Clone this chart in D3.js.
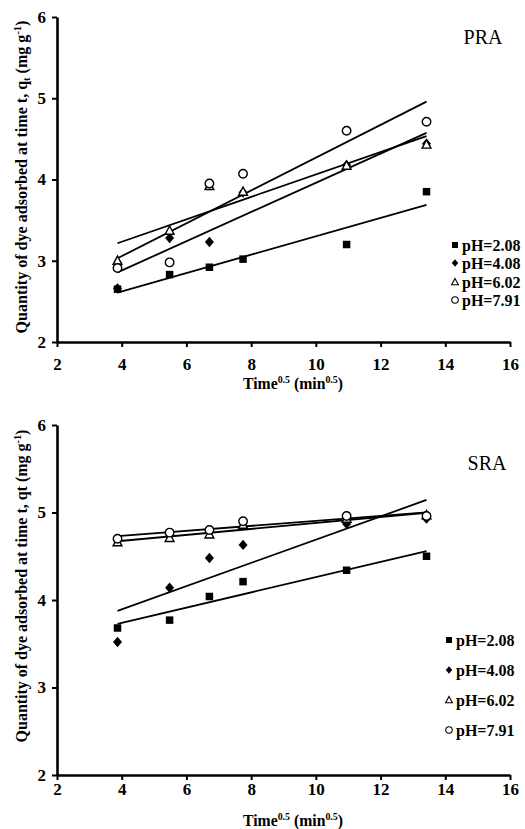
<!DOCTYPE html>
<html>
<head>
<meta charset="utf-8">
<script src="https://cdn.jsdelivr.net/npm/d3@7"></script>
<style>
  body { margin: 0; background: #fff; }
  svg { display: block; }
  text { font-family: "Liberation Serif", "Times New Roman", Times, serif; fill: #000; }
</style>
</head>
<body>
<svg id="chart" width="525" height="829"></svg>
<script>
// Square root of contact time (min^0.5): 15, 30, 45, 60, 120, 180 min
const sqrtTime = [3.87, 5.48, 6.71, 7.75, 10.95, 13.42];

const seriesLabels = ["pH=2.08", "pH=4.08", "pH=6.02", "pH=7.91"];

// PRA: quantity adsorbed q_t (mg g-1)
const praPH208 = [2.65, 2.83, 2.92, 3.02, 3.20, 3.85];
const praPH408 = [2.66, 3.28, 3.23, 3.84, 4.18, 4.44];
const praPH602 = [3.00, 3.37, 3.92, 3.85, 4.17, 4.43];
const praPH791 = [2.91, 2.98, 3.95, 4.07, 4.60, 4.71];

// SRA: quantity adsorbed q_t (mg g-1)
const sraPH208 = [3.68, 3.77, 4.04, 4.21, 4.34, 4.50];
const sraPH408 = [3.52, 4.14, 4.48, 4.63, 4.87, 4.93];
const sraPH602 = [4.66, 4.71, 4.75, 4.86, 4.93, 4.97];
const sraPH791 = [4.70, 4.77, 4.80, 4.90, 4.96, 4.96];

const xTicks = [2, 4, 6, 8, 10, 12, 14, 16];
const yTicks = [2, 3, 4, 5, 6];

const svg = d3.select("#chart");
const serif = '"Liberation Serif", "Times New Roman", Times, serif';

// marker shapes centred on 0,0
const markerPath = {
  square: s => `M${-s/2},${-s/2}h${s}v${s}h${-s}Z`,
  diamond: s => `M0,${-s*0.58}L${s*0.5},0L0,${s*0.58}L${-s*0.5},0Z`,
  triangle: s => `M0,${-s*0.55}L${s*0.52},${s*0.42}L${-s*0.52},${s*0.42}Z`,
  circle: s => `M${s/2},0A${s/2},${s/2} 0 1,1 ${-s/2},0A${s/2},${s/2} 0 1,1 ${s/2},0Z`
};
const markerKinds = ["square", "diamond", "triangle", "circle"];
const markerFilled = [true, true, false, false];

function fitLine(xs, ys) {
  const n = xs.length;
  const mx = d3.mean(xs), my = d3.mean(ys);
  let sxy = 0, sxx = 0;
  for (let i = 0; i < n; i++) {
    sxy += (xs[i] - mx) * (ys[i] - my);
    sxx += (xs[i] - mx) ** 2;
  }
  const slope = sxy / sxx;
  return x => my + slope * (x - mx);
}

function drawPanel(cfg) {
  const x = d3.scaleLinear().domain([2, 16]).range([57, 510]);
  const y = d3.scaleLinear().domain([2, 6]).range([cfg.bottom, cfg.top]);
  const g = svg.append("g");

  // axes
  const yAxis = d3.axisLeft(y).tickValues(yTicks).tickFormat(d3.format("d"))
    .tickSize(5).tickSizeOuter(0).tickPadding(6);
  const xAxis = d3.axisBottom(x).tickValues(xTicks).tickFormat(d3.format("d"))
    .tickSize(5).tickSizeOuter(0).tickPadding(cfg.xTickPad);

  const ya = g.append("g").attr("transform", "translate(57,0)").call(yAxis);
  const xa = g.append("g").attr("transform", `translate(0,${cfg.bottom})`).call(xAxis);
  [ya, xa].forEach(a => {
    a.attr("font-family", serif).attr("font-size", 17).attr("font-weight", "bold");
    a.select(".domain").attr("stroke", "#000").attr("stroke-width", 2.6);
    a.selectAll(".tick line").attr("stroke", "#000").attr("stroke-width", 2);
    a.selectAll(".tick text")
      .style("font-family", serif)
      .style("font-size", "17px")
      .style("font-weight", "700");
  });

  // trend lines
  cfg.series.forEach(vals => {
    const f = fitLine(sqrtTime, vals);
    const x0 = d3.min(sqrtTime), x1 = d3.max(sqrtTime);
    g.append("line")
      .attr("x1", x(x0)).attr("y1", y(f(x0)))
      .attr("x2", x(x1)).attr("y2", y(f(x1)))
      .attr("stroke", "#000").attr("stroke-width", 1.8);
  });

  // markers
  cfg.series.forEach((vals, si) => {
    const kind = markerKinds[si];
    const size = kind === "square" ? 7.5 : kind === "diamond" ? 9 : 8.5;
    g.append("g").selectAll("path").data(vals).join("path")
      .attr("transform", (d, i) => `translate(${x(sqrtTime[i])},${y(d)})`)
      .attr("d", markerPath[kind](size))
      .attr("fill", markerFilled[si] ? "#000" : "#fff")
      .attr("stroke", "#000")
      .attr("stroke-width", markerFilled[si] ? 0 : 1.4);
  });

  // panel label
  g.append("text").attr("x", cfg.labelX).attr("y", cfg.labelY)
    .attr("text-anchor", "middle").attr("font-size", 20)
    .text(cfg.name);

  // legend
  seriesLabels.forEach((lab, i) => {
    const ly = cfg.legendRows[i];
    const kind = markerKinds[i];
    g.append("path")
      .attr("transform", `translate(${cfg.legendX},${ly})`)
      .attr("d", markerPath[kind](kind === "square" ? 6 : 6.5))
      .attr("fill", markerFilled[i] ? "#000" : "#fff")
      .attr("stroke", "#000").attr("stroke-width", markerFilled[i] ? 0 : 1.1);
    g.append("text").attr("x", cfg.legendX + 7).attr("y", ly + 5.5)
      .style("font-size", "16px").style("font-weight", "700").text(lab);
  });

  // x axis title
  const xt = g.append("text").attr("x", 293).attr("y", cfg.xTitleY)
    .attr("text-anchor", "middle").style("font-size", "16px").style("font-weight", "700");
  xt.append("tspan").text("Time");
  xt.append("tspan").style("font-size", "10px").attr("dy", -6).text("0.5");
  xt.append("tspan").attr("dy", 6).text(" (min");
  xt.append("tspan").style("font-size", "10px").attr("dy", -6).text("0.5");
  xt.append("tspan").attr("dy", 6).text(")");
  const xl = xt.node().getComputedTextLength();
  if (xl > 0) {
    xt.attr("transform", `translate(293,0) scale(${100 / xl},1) translate(-293,0)`);
  }

  // y axis title
  const yt = g.append("text")
    .attr("text-anchor", "middle").style("font-size", "17px").style("font-weight", "700");
  if (cfg.subscriptQ) {
    yt.append("tspan").text("Quantity of dye adsorbed at time t, q");
    yt.append("tspan").style("font-size", "11px").attr("dy", 3).text("t");
    yt.append("tspan").attr("dy", -3).text(" (mg g");
  } else {
    yt.append("tspan").text("Quantity of dye adsorbed at time t, qt (mg g");
  }
  yt.append("tspan").style("font-size", "11px").attr("dy", -6).text("-1");
  yt.append("tspan").attr("dy", 6).text(")");
  const len = yt.node().getComputedTextLength();
  const k = len > 0 ? 313 / len : 1;
  yt.attr("transform", `translate(27,${cfg.yTitleMid}) rotate(-90) scale(${k},1)`);
}

drawPanel({
  name: "PRA",
  series: [praPH208, praPH408, praPH602, praPH791],
  top: 17, bottom: 342,
  xTickPad: 11, xTitleY: 389,
  yTitleMid: 177, subscriptQ: true,
  labelX: 483, labelY: 44,
  legendX: 455, legendRows: [245, 263, 282, 300]
});

drawPanel({
  name: "SRA",
  series: [sraPH208, sraPH408, sraPH602, sraPH791],
  top: 425, bottom: 775,
  xTickPad: 3, xTitleY: 826,
  yTitleMid: 586, subscriptQ: false,
  labelX: 487, labelY: 470,
  legendX: 449, legendRows: [640, 670, 700, 730]
});
</script>
</body>
</html>
